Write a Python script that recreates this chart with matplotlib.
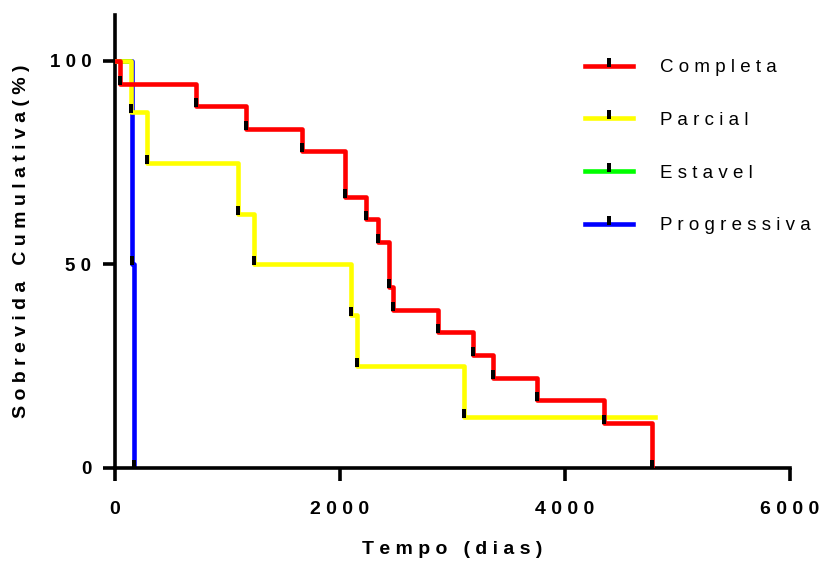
import matplotlib
matplotlib.use('Agg')
import matplotlib.pyplot as plt
import matplotlib.path as mpath

completa_t = [0, 44, 720, 1164, 1665, 2046, 2235, 2338, 2436, 2471, 2871, 3184, 3362, 3755, 4350, 4776]
completa_s = [100, 94.4, 88.9, 83.3, 77.8, 66.7, 61.1, 55.6, 44.4, 38.9, 33.3, 27.8, 22.2, 16.7, 11.1, 0]

parcial_t = [0, 142, 284, 1093, 1236, 2098, 2151, 3102, 4800]
parcial_s = [100, 87.5, 75, 62.5, 50, 37.5, 25, 12.5, 12.5]

estavel_t = [0, 120]
estavel_s = [100, 100]

progressiva_t = [0, 147, 168]
progressiva_s = [100, 50, 0]

x_ticks = [0, 2000, 4000, 6000]
y_ticks = [0, 50, 100]


def espacar(txt, sep=' '):
    # imita o espacamento de letras do GraphPad
    return sep.join(txt)


# marcador: barrinha preta acima do ponto
verts = [(-0.3, -0.1), (0.3, -0.1), (0.3, 1.0), (-0.3, 1.0), (-0.3, -0.1)]
codes = [mpath.Path.MOVETO] + [mpath.Path.LINETO] * 3 + [mpath.Path.CLOSEPOLY]
marca = mpath.Path(verts, codes)

plt.rcParams['font.family'] = ['Liberation Sans', 'DejaVu Sans']

fig = plt.figure(figsize=(8.19, 5.62), dpi=100)
ax = fig.add_axes([115 / 819, 1 - 468 / 562, 675 / 819, 453 / 562])

lw = 3.3
estilo = dict(drawstyle='steps-post', linewidth=lw, marker=marca, markersize=11.5,
              markerfacecolor='black', markeredgewidth=0)

series = [
    ('Progressiva', progressiva_t, progressiva_s, '#0000FF', 2, range(1, len(progressiva_t))),
    ('Estavel', estavel_t, estavel_s, '#00FF00', 3, []),
    ('Parcial', parcial_t, parcial_s, '#FFFF00', 4, range(1, len(parcial_t) - 1)),
    ('Completa', completa_t, completa_s, '#FF0000', 5, range(1, len(completa_t))),
]
handles = {}
for nome, t, s, cor, z, marcas in series:
    h, = ax.plot(t, s, color=cor, zorder=z, markevery=list(marcas), **estilo)
    handles[nome] = h

# handles da legenda com a barrinha visivel
ordem = ['Completa', 'Parcial', 'Estavel', 'Progressiva']
leg_h = []
for nome in ordem:
    cor = handles[nome].get_color()
    hh, = ax.plot([], [], color=cor, linewidth=lw, marker=marca, markersize=11.5,
                  markerfacecolor='black', markeredgewidth=0)
    leg_h.append(hh)

ax.legend(leg_h, [espacar(n) for n in ordem], loc='upper left',
          bbox_to_anchor=(585 / 819, 1 - 59 / 562), bbox_transform=fig.transFigure,
          frameon=False, fontsize=13.5, handlelength=2.55, handletextpad=1.45,
          labelspacing=1.9, numpoints=1, borderaxespad=0, borderpad=0)

ax.set_xlim(0, 6000)
ax.set_ylim(0, 111.3)
ax.set_xticks(x_ticks)
ax.set_xticklabels([espacar(str(v)) for v in x_ticks], fontsize=14, fontweight='bold')
ax.set_yticks(y_ticks)
ax.set_yticklabels([espacar(str(v)) for v in y_ticks], fontsize=13.5, fontweight='bold')

for lado in ['top', 'right']:
    ax.spines[lado].set_visible(False)
for lado in ['left', 'bottom']:
    ax.spines[lado].set_linewidth(2.6)
ax.tick_params(width=2.6, length=9, pad=8)
ax.tick_params(axis='x', pad=15)

ax.set_xlabel('T e m p o   ( d i a s )', fontsize=14, fontweight='bold', labelpad=16)
ax.set_ylabel('S o b r e v i d a   C u m u l a t i v a ( % )', fontsize=14,
              fontweight='bold', labelpad=14)

fig.savefig('out.png', dpi=100)
